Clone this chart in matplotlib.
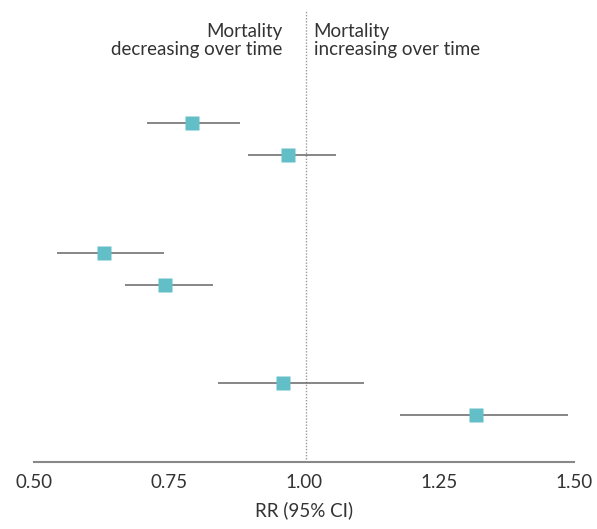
import matplotlib
matplotlib.use("Agg")
from matplotlib import pyplot as plt

# forest plot data: rate ratio and 95% CI, one entry per row (None = blank row)
rr = [0.793, 0.971, None, None, 0.630, 0.743, None, None, 0.962, 1.319]
ci_low = [0.710, 0.897, None, None, 0.543, 0.669, None, None, 0.841, 1.178]
ci_high = [0.882, 1.060, None, None, 0.741, 0.832, None, None, 1.111, 1.489]
xticks = [0.50, 0.75, 1.00, 1.25, 1.50]
xlabel = "RR (95% CI)"
left_note = "Mortality\ndecreasing over time"
right_note = "Mortality\nincreasing over time"

plt.rcParams['font.family'] = ['Lato', 'DejaVu Sans']
text_col = '#333333'

fig = plt.figure(figsize=(5.97, 5.29), dpi=100)
ax = fig.add_axes([34 / 597, 1 - 462 / 529, 540 / 597, (462 - 10) / 529])

for i, (m, lo, hi) in enumerate(zip(rr, ci_low, ci_high)):
    if m is None:
        continue
    ax.plot([lo, hi], [i, i], color='#666666', lw=1.1, zorder=2,
            solid_capstyle='butt')
    ax.plot(m, i, marker='s', ms=9.5, color='#62bfc8', mec='none', zorder=3)

ax.axvline(1.003, color='#999999', lw=1, ls=(0, (1, 1.2)), zorder=1)

ax.set_xlim(0.5, 1.5)
ax.set_ylim(10.45, -3.48)
ax.set_yticks([])
ax.set_xticks(xticks)
ax.set_xticklabels([f"{t:.2f}" for t in xticks])
ax.tick_params(axis='x', length=0, pad=9, labelsize=13.5, labelcolor=text_col)
for s in ['top', 'left', 'right']:
    ax.spines[s].set_visible(False)
ax.spines['bottom'].set_color('#888888')
ax.spines['bottom'].set_linewidth(1.5)
ax.set_xlabel(xlabel, fontsize=13.5, color=text_col, labelpad=7)

ax.text(0.960, -3.08, left_note, ha='right', va='top', fontsize=13.5,
        color=text_col, linespacing=1.1)
ax.text(1.018, -3.08, right_note, ha='left', va='top', fontsize=13.5,
        color=text_col, linespacing=1.1)

fig.savefig('out.png', dpi=100)
